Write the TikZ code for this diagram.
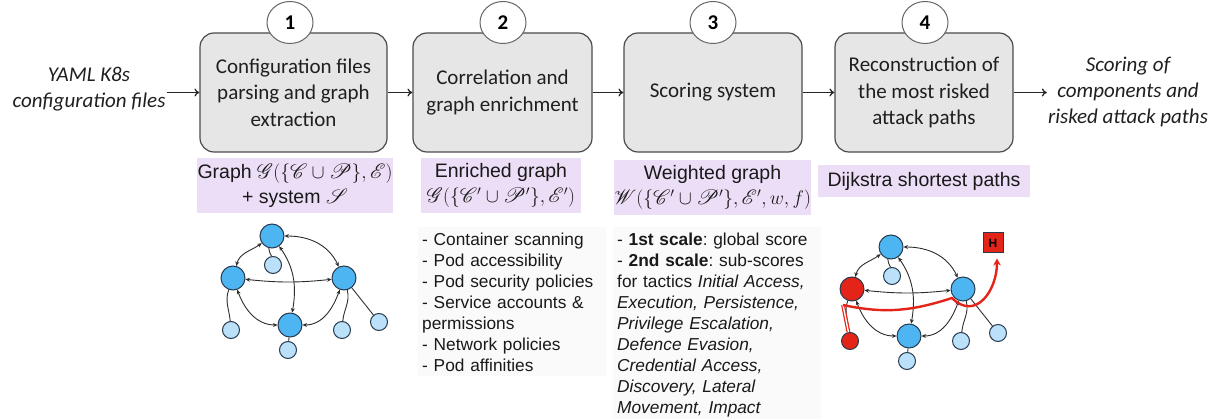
\documentclass[tikz,border=0pt]{standalone}
\usepackage{fix-cm}
\usepackage{fontspec}
\usepackage{mathrsfs}
\setmainfont{Liberation Sans}
\newfontfamily\calibri{Carlito}
\usetikzlibrary{arrows.meta,shapes.geometric,calc}
\frenchspacing

\definecolor{stepfill}{RGB}{230,230,230}
\definecolor{stepline}{RGB}{75,75,75}
\definecolor{lavender}{RGB}{236,222,246}
\definecolor{hubblue}{RGB}{77,182,242}
\definecolor{leafblue}{RGB}{186,224,250}
\definecolor{nodeline}{RGB}{40,58,78}
\definecolor{alertred}{RGB}{228,36,24}
\definecolor{edgegray}{RGB}{45,45,45}

\tikzset{
  stepbox/.style={draw=stepline, line width=1.2pt, fill=stepfill, rounded corners=14pt,
    minimum height=119pt, inner sep=0pt, align=center, text=black!88,
    font=\calibri\fontsize{21}{26.5}\selectfont},
  stepnum/.style={draw=stepline!85, line width=1pt, fill=white, ellipse,
    minimum width=46pt, minimum height=42pt, inner sep=0pt,
    font=\calibri\bfseries\fontsize{21}{21}\selectfont},
  flow/.style={-{To[length=5pt,width=8pt]}, line width=1.3pt, black!85},
  sidetext/.style={font=\calibri\itshape\fontsize{21}{26}\selectfont, align=center,
    inner sep=1pt, text=black!88},
  tag/.style={fill=lavender, inner sep=0pt, align=center, text=black!90,
    font=\fontsize{19.5}{25}\selectfont},
  notes/.style={fill=black!2, inner sep=4pt, anchor=north west, align=left, text=black!90,
    font=\fontsize{17.3}{21}\selectfont},
  hub/.style={circle, draw=nodeline, line width=1pt, fill=hubblue, minimum size=24pt, inner sep=0pt},
  leaf/.style={circle, draw=nodeline, line width=1pt, fill=leafblue, minimum size=17pt, inner sep=0pt},
  hot/.style={fill=alertred},
  link/.style={{Stealth[length=4.5pt,width=4pt]}-{Stealth[length=4.5pt,width=4pt]},
    line width=0.9pt, edgegray},
  tie/.style={line width=0.9pt, edgegray},
  riskpath/.style={alertred, line width=2.4pt},
}

% A small cluster graph: #1 name prefix, #2 shift,
% #3 extra style of the left hub, #4 extra style of its leaf
\newcommand\clustergraph[4]{%
  \begin{scope}[shift={#2}]
    \node[hub] (#1T) at (272,-236) {};
    \node[hub,#3] (#1L) at (233,-278) {};
    \node[hub] (#1R) at (344,-278) {};
    \node[hub] (#1B) at (290,-325) {};
    \node[leaf] (#1t) at (273,-265) {};
    \node[leaf,#4] (#1l) at (231,-330) {};
    \node[leaf] (#1b) at (288,-350) {};
    \node[leaf] (#1r) at (342,-330) {};
    \node[leaf] (#1s) at (379,-322) {};
    \draw[tie] (#1T) to[out=-105,in=100] (#1t);
    \draw[tie] (#1L) to[out=-110,in=95] (#1l);
    \draw[tie] (#1B) -- (#1b);
    \draw[tie] (#1R) to[out=-75,in=85] (#1r);
    \draw[tie] (#1R) -- (#1s);
    \draw[link] (#1T) to[out=215,in=75] (#1L);
    \draw[link] (#1T) to[out=0,in=115] (#1R);
    \draw[link] (#1L) to[bend right=6] (#1R);
    \draw[link] (#1T) to[out=-55,in=80] (#1B);
    \draw[link] (#1L) to[out=-70,in=180] (#1B);
    \draw[link] (#1R) to[out=-110,in=0] (#1B);
  \end{scope}}

\begin{document}
\begin{tikzpicture}[x=1pt,y=1pt]
  \useasboundingbox (0,0) rectangle (1220,-419);

  % pipeline steps
  \node[stepbox, minimum width=187pt] (s1) at (293.5,-92.5) {Configuration files\\parsing and graph\\extraction};
  \node[stepbox, minimum width=179pt] (s2) at (502.5,-92.5) {Correlation and\\graph enrichment};
  \node[stepbox, minimum width=178pt] (s3) at (713,-92.5) {Scoring system};
  \node[stepbox, minimum width=178pt] (s4) at (924,-92.5) {Reconstruction of\\the most risked\\attack paths};

  \node[stepnum] (n1) at (290,-22.5) {1};
  \node[stepnum] (n2) at (503,-22.5) {2};
  \node[stepnum] (n3) at (713,-22.5) {3};
  \node[stepnum] (n4) at (925,-22.5) {4};

  % input and output
  \node[sidetext] (src) at (89,-89) {YAML K8s\\configuration files};
  \node[sidetext] (dst) at (1128,-91.5) {Scoring of\\components and\\risked attack paths};

  \draw[flow] (src.east |- s1.west) -- (s1.west);
  \draw[flow] (s1) -- (s2);
  \draw[flow] (s2) -- (s3);
  \draw[flow] (s3) -- (s4);
  \draw[flow] (s4.east) -- (s4.east -| dst.west);

  % outputs of each step
  \node[tag, minimum width=196pt, minimum height=55pt] (o1) at (295,-185.5)
    {Graph $\mathscr{G}(\{\mathscr{C}\cup\mathscr{P}\},\mathscr{E})$\\+ system $\mathscr{S}$};
  \node[tag, minimum width=160pt, minimum height=55pt] (o2) at (501,-185.5)
    {Enriched graph\\$\mathscr{G}(\{\mathscr{C}'\cup\mathscr{P}'\},\mathscr{E}')$};
  \node[tag, minimum width=195pt, minimum height=55pt] (o3) at (712.5,-187.5)
    {Weighted graph\\$\mathscr{W}(\{\mathscr{C}'\cup\mathscr{P}'\},\mathscr{E}',w,f)$};
  \node[tag, minimum width=212pt, minimum height=32pt] (o4) at (924,-181)
    {Dijkstra shortest paths};

  % details of steps 2 and 3
  \node[notes, text width=180pt] (d2) at (418,-227)
    {\strut- Container scanning\\
     - Pod accessibility\\
     - Pod security policies\\
     - Service accounts \&\\
     permissions\\
     - Network policies\\
     - Pod affinities};
  \node[notes, text width=200pt] (d3) at (613,-227)
    {\strut- \textbf{1st scale}: global score\\
     - \textbf{2nd scale}: sub-scores\\
     for tactics \textit{Initial Access,}\\
     \textit{Execution, Persistence,}\\
     \textit{Privilege Escalation,}\\
     \textit{Defence Evasion,}\\
     \textit{Credential Access,}\\
     \textit{Discovery, Lateral}\\
     \textit{Movement, Impact}};

  % extracted graph
  \clustergraph{G1}{(0,0)}{}{}

  % graph with the most risked attack path
  \clustergraph{G2}{(619,-11)}{hot}{hot}
  \node[draw=nodeline, line width=1pt, fill=alertred, minimum size=20pt, inner sep=0pt,
        font=\bfseries\fontsize{12}{12}\selectfont] (G2H) at (993,-243) {H};
  \draw[alertred, line width=1.2pt, double=white, double distance=1.4pt]
    (G2l.100) -- ($(G2L)+(-9,-16)$);
  \draw[riskpath, -{Stealth[length=7pt,width=7.5pt]}]
    ($(G2L)+(-9,-16)$) to[out=-12,in=198] ($(G2R)+(-11,-9)$)
    to[out=-45,in=-90,looseness=1.4] ($(G2H.south)+(4,-5)$);
\end{tikzpicture}
\end{document}
